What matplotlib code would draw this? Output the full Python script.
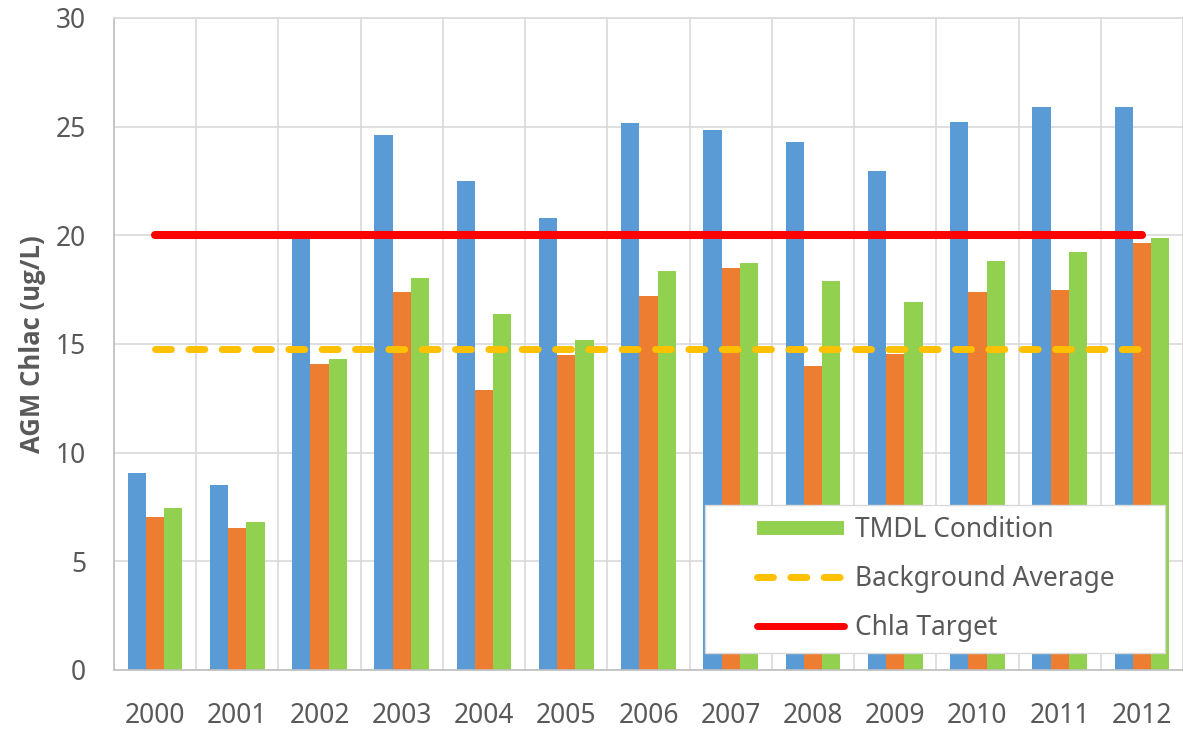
import matplotlib
matplotlib.use("Agg")
import matplotlib.pyplot as plt
import numpy as np
from matplotlib.lines import Line2D
from matplotlib.patches import Rectangle

# data
years = ["2000", "2001", "2002", "2003", "2004", "2005", "2006",
         "2007", "2008", "2009", "2010", "2011", "2012"]
existing = [9.05, 8.5, 20.2, 24.6, 22.5, 20.8, 25.15, 24.85, 24.3, 22.95, 25.2, 25.9, 25.9]
reduced = [7.05, 6.55, 14.1, 17.4, 12.9, 14.5, 17.2, 18.5, 14.0, 14.55, 17.4, 17.5, 19.65]
tmdl = [7.45, 6.8, 14.3, 18.05, 16.4, 15.2, 18.35, 18.75, 17.9, 16.95, 18.8, 19.25, 19.9]
background = [14.75] * 13
target = [20.0] * 13

gray = "#595959"
plt.rcParams['font.family'] = ['Noto Sans', 'DejaVu Sans']

fig = plt.figure(figsize=(11.83, 7.29), dpi=100)
ax = fig.add_axes([114 / 1183, 59 / 729, 1069 / 1183, 652 / 729])

x = np.arange(len(years))
w = 0.222
ax.bar(x - w, existing, w, color="#5B9BD5", zorder=2)
ax.bar(x, reduced, w, color="#ED7D31", zorder=2)
ax.bar(x + w, tmdl, w, color="#92D050", zorder=2)

bg_line, = ax.plot(x, background, color="#FFC000", lw=5, zorder=3,
                   dash_capstyle="round", solid_capstyle="round")
bg_line.set_dashes([2.3, 2.5])
ax.plot(x, target, color="#FF0000", lw=5.8, zorder=3, solid_capstyle="round")

ax.set_xlim(-0.5, 12.5)
ax.set_ylim(0, 30)
ax.set_yticks(range(0, 31, 5))
ax.set_xticks(x)
ax.set_xticklabels(years)
ax.set_xticks(np.arange(-0.5, 13, 1), minor=True)
ax.grid(True, which="minor", axis="x", color="#d9d9d9", lw=1.2, zorder=0)
ax.grid(True, which="major", axis="y", color="#d9d9d9", lw=1.2, zorder=0)
ax.tick_params(axis="both", which="both", length=0, labelsize=19, colors=gray)
ax.tick_params(axis="x", pad=23)
ax.tick_params(axis="y", pad=20)
for s in ax.spines.values():
    s.set_color("#d9d9d9")
    s.set_linewidth(1.2)
ax.spines["left"].set_color("#bfbfbf")
ax.spines["bottom"].set_color("#bfbfbf")

ax.set_ylabel("AGM Chlac (ug/L)", fontsize=18.5, fontweight="bold", color=gray,
              family=["Open Sans", "DejaVu Sans"], labelpad=7)

# white legend box over the bars
box = Rectangle((705 / 1183, 1 - 653 / 729), 460 / 1183, 148 / 729,
                transform=fig.transFigure, facecolor="white",
                edgecolor="#d9d9d9", lw=1, zorder=5)
ax.add_patch(box)

handles = [
    Line2D([], [], color="#92D050", lw=10, solid_capstyle="butt"),
    Line2D([], [], color="#FFC000", lw=5, dashes=[2.3, 2.5], dash_capstyle="round"),
    Line2D([], [], color="#FF0000", lw=5, solid_capstyle="round"),
]
labels = ["TMDL Condition", "Background Average", "Chla Target"]
leg = ax.legend(handles, labels, loc="upper left",
                bbox_to_anchor=(757 / 1183, 1 - 516 / 729),
                bbox_transform=fig.transFigure, frameon=False,
                fontsize=19, handlelength=3.3, handletextpad=0.4,
                labelspacing=0.8, borderaxespad=0, borderpad=0)
leg.set_zorder(6)
for t in leg.get_texts():
    t.set_color(gray)

fig.savefig("out.png", dpi=100)
